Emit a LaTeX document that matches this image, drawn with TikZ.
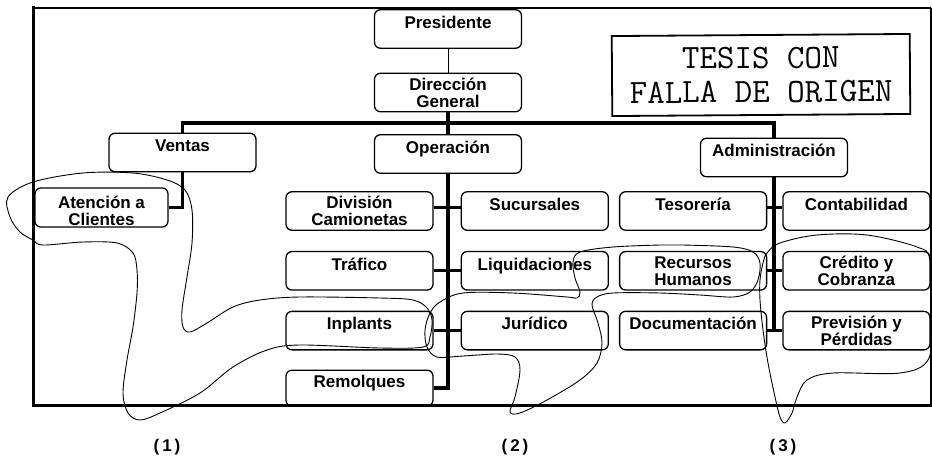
\documentclass[tikz,border=0pt]{standalone}
\usepackage{fontspec}
\setmainfont{Liberation Sans}
\usetikzlibrary{positioning}

\begin{document}
\begin{tikzpicture}[x=1pt, y=-1pt,
        box/.style={rectangle, rounded corners=6pt, draw, line width=1.3pt, minimum width=147pt, minimum height=38.5pt, inner sep=1pt, align=center, font=\fontsize{17}{17}\selectfont\bfseries},
        one/.style={text height=12.5pt, text depth=14pt},
        bus/.style={line width=3.5pt},
        tie/.style={line width=3pt},
        scrawl/.style={line width=0.9pt, smooth cycle, tension=0.55},
        numlab/.style={font=\fontsize{17}{17}\selectfont\bfseries},
        node distance=20pt and 27pt
    ]
    \useasboundingbox (0,0) rectangle (932,456);

    \draw[line width=2pt] (33,8) -- (931,8);
    \draw[line width=1.5pt] (931,8) -- (931,405);
    \draw[line width=3pt] (33,6) -- (33,405) -- (932,405);

    \node[box, one] (pres)   at (448,29)      {Presidente};
    \node[box]      (dir)    at (448,92.5)    {Dirección\\General};
    \node[box, one] (ventas) at (182.5,152.5) {Ventas};
    \node[box, one] (oper)   at (448,154)     {Operación};
    \node[box, one] (admin)  at (774,157.5)   {Administración};
    \node[box, minimum width=133pt] (aten) at (101.5,207.5) {\rule{0pt}{20pt}Atención a\\Clientes};

    \node[box]      (divc)  at (359.5,211)         {División\\Camionetas};
    \node[box, one] (sucu)  [right=of divc]        {Sucursales};
    \node[box, one] (teso)  [right=10pt of sucu]   {Tesorería};
    \node[box, one] (conta) [right=15pt of teso]   {Contabilidad};
    \node[box, one] (traf)  [below=of divc]        {Tráfico};
    \node[box, one] (liqu)  [below=of sucu]        {Liquidaciones};
    \node[box]      (rrhh)  [below=of teso]        {Recursos\\Humanos};
    \node[box]      (cred)  [below=of conta]       {Crédito y\\Cobranza};
    \node[box, one] (inpl)  [below=of traf]        {Inplants};
    \node[box, one] (juri)  [below=of liqu]        {Jurídico};
    \node[box, one] (docu)  [below=of rrhh]        {Documentación};
    \node[box]      (prev)  [below=of cred]        {Previsión y\\Pérdidas};
    \node[box, one, minimum height=36pt] (remo) [below=19pt of inpl] {Remolques};

    \node[draw, line width=1.8pt, minimum width=298pt, minimum height=80pt, align=center, rotate=0.4,
          font=\fontsize{34}{34}\selectfont\ttfamily] (stamp) at (761,75) {TESIS CON\\FALLA DE ORIGEN};

    \coordinate (jn) at (448,123);
    \draw[line width=1pt] (pres) -- (dir);
    \draw[bus] (dir) -- (oper);
    \draw[bus] (ventas.north) |- (jn) -| (admin.north);
    \draw[bus] (ventas.south) |- (aten.east);
    \draw[bus] (oper.south) |- (remo.east);
    \draw[bus] (admin.south) -- (admin.south |- prev.west);

    \draw[tie] ([yshift=4pt]divc.east) -- ([yshift=4pt]sucu.west);
    \draw[tie] (traf) -- (liqu);
    \draw[tie] (inpl) -- (juri);
    \draw[tie] ([yshift=4pt]teso.east) -- ([yshift=4pt]conta.west);
    \draw[tie] (rrhh) -- (cred);
    \draw[tie] (docu) -- (prev);

    \draw[scrawl] plot coordinates {(8,197) (33,182) (83,173) (133,173) (167,180) (185,190) (192,210) (192,243) (187,277) (182,310) (183,327) (190,332) (207,323) (233,307) (260,300) (300,297) (380,298) (413,300) (427,308) (432,320) (430,337) (423,347) (380,348) (300,345) (267,350) (233,367) (200,393) (160,413) (140,420) (128,413) (123,393) (127,360) (133,327) (137,293) (137,270) (133,253) (117,243) (83,242) (43,245) (33,240) (20,232) (10,217)};
    \draw[scrawl] plot coordinates {(660,245) (613,247) (580,252) (573,262) (575,278) (580,292) (577,298) (567,297) (513,293) (463,293) (440,302) (430,313) (425,330) (427,347) (437,357) (463,356) (497,354) (515,357) (520,370) (515,397) (510,412) (520,413) (547,400) (580,380) (597,363) (602,343) (598,323) (592,305) (597,297) (613,293) (660,293) (700,295) (733,297) (750,292) (758,280) (760,263) (753,252) (733,247) (683,245)};
    \draw[scrawl] plot coordinates {(767,253) (780,243) (817,235) (867,235) (917,247) (930,260) (932,320) (928,360) (900,373) (833,373) (807,380) (797,397) (792,413) (785,423) (780,417) (775,397) (768,363) (763,330) (760,300) (760,280) (763,263)};

    \node[numlab] (lab1) at (167,447) {(\kern3pt1\kern3pt)};
    \node[numlab] (lab2) at (515,447) {(\kern3pt2\kern3pt)};
    \node[numlab] (lab3) at (783,447) {(\kern3pt3\kern3pt)};
\end{tikzpicture}
\end{document}
